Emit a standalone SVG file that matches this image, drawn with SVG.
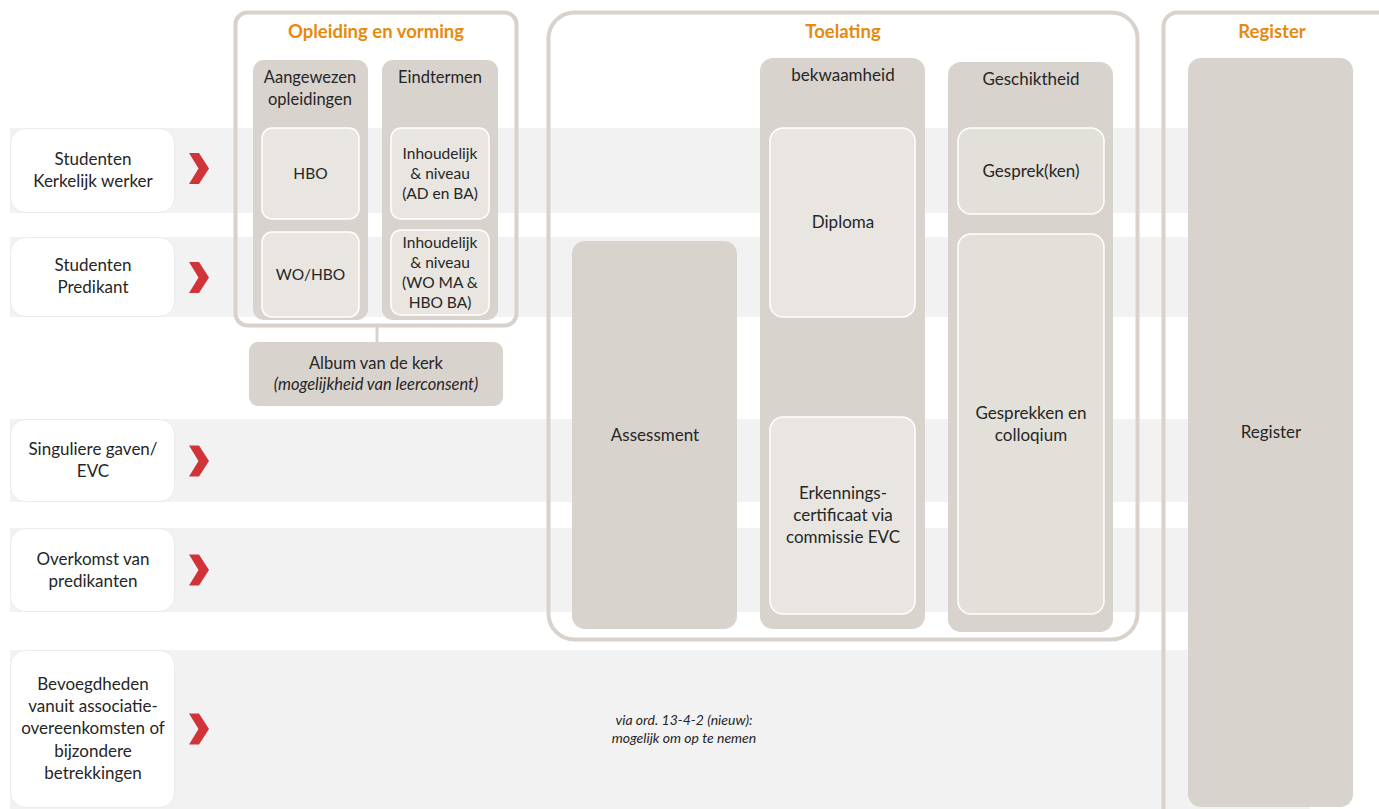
<svg xmlns="http://www.w3.org/2000/svg" width="1379" height="809" viewBox="0 0 1379 809">
<style>
.band{fill:#f2f2f2}
.lbl{fill:#ffffff;stroke:#ececec;stroke-width:1}
.frame{fill:none;stroke:#d9d2cc;stroke-width:4}
.col{fill:#d9d3ce}
.inner{fill:#e9e6e2;stroke:#ffffff;stroke-width:1.5}
.inner2{fill:#e3e0da;stroke:#ffffff;stroke-width:1.5}
.t{font-family:Lato,"Open Sans","Liberation Sans",sans-serif;font-size:17px;fill:#262626;text-anchor:middle}
.s{font-size:15.5px}
.m{font-size:16.5px}
.ti{font-style:italic}
.h{font-family:Lato,"Open Sans","Liberation Sans",sans-serif;font-size:18.5px;font-weight:bold;fill:#e8890c;text-anchor:middle}
.sm{font-family:Lato,"Open Sans","Liberation Sans",sans-serif;font-size:14px;font-style:italic;fill:#262626;text-anchor:middle}
.chev{fill:#d13438}
.conn{stroke:#d9d2cc;stroke-width:3;fill:none}
</style>
<defs>
<path id="chev" class="chev" d="M0,-15.5 L10,-15.5 L20,0 L10,15.5 L0,15.5 L9.5,0 Z"/>
</defs>
<rect width="1379" height="809" fill="#ffffff"/>
<g id="bands">
<rect class="band" x="10" y="128" width="1300" height="85"/>
<rect class="band" x="10" y="237" width="1300" height="80"/>
<rect class="band" x="10" y="419" width="1300" height="83"/>
<rect class="band" x="10" y="528" width="1300" height="84"/>
<rect class="band" x="10" y="650" width="1300" height="159"/>
</g>
<g id="row-kerkelijk">
<rect class="lbl" x="10.5" y="128.5" width="164" height="84" rx="15"/>
<text class="t" x="93" y="165">Studenten</text>
<text class="t" x="93" y="187">Kerkelijk werker</text>
<use href="#chev" x="189" y="168.5"/>
</g>
<g id="row-predikant">
<rect class="lbl" x="10.5" y="237.5" width="164" height="79" rx="15"/>
<text class="t" x="93" y="271">Studenten</text>
<text class="t" x="93" y="293">Predikant</text>
<use href="#chev" x="189" y="277.5"/>
</g>
<g id="row-singuliere">
<rect class="lbl" x="10.5" y="419.5" width="164" height="82" rx="15"/>
<text class="t" x="93" y="455">Singuliere gaven/</text>
<text class="t" x="93" y="477">EVC</text>
<use href="#chev" x="189" y="461"/>
</g>
<g id="row-overkomst">
<rect class="lbl" x="10.5" y="528.5" width="164" height="83" rx="15"/>
<text class="t" x="93" y="565">Overkomst van</text>
<text class="t" x="93" y="587">predikanten</text>
<use href="#chev" x="189" y="570"/>
</g>
<g id="row-bevoegdheden">
<rect class="lbl" x="10.5" y="650.5" width="164" height="157" rx="15"/>
<text class="t" x="93" y="690">Bevoegdheden</text>
<text class="t" x="93" y="712">vanuit associatie-</text>
<text class="t" x="93" y="734">overeenkomsten of</text>
<text class="t" x="93" y="757">bijzondere</text>
<text class="t" x="93" y="779">betrekkingen</text>
<use href="#chev" x="189" y="729"/>
</g>
<g id="connectors">
<line class="conn" x1="377" y1="326" x2="377" y2="343"/>
</g>
<g id="opleiding">
<rect class="frame" x="235.5" y="12.5" width="281" height="313" rx="12"/>
<text class="h" x="376" y="38">Opleiding en vorming</text>
</g>
<g id="aangewezen">
<rect class="col" x="253" y="60" width="115" height="260" rx="11"/>
<text class="t m" x="310" y="83">Aangewezen</text>
<text class="t m" x="310" y="105">opleidingen</text>
</g>
<g id="hbo">
<rect class="inner" x="262" y="128" width="97" height="91" rx="10"/>
<text class="t s" x="310.5" y="179">HBO</text>
</g>
<g id="wohbo">
<rect class="inner" x="262" y="232" width="97" height="85" rx="10"/>
<text class="t s" x="310.5" y="280">WO/HBO</text>
</g>
<g id="eindtermen">
<rect class="col" x="382" y="60" width="116" height="260" rx="11"/>
<text class="t m" x="440" y="83">Eindtermen</text>
</g>
<g id="inhoud1">
<rect class="inner" x="391" y="128" width="98" height="91" rx="10"/>
<text class="t s" x="440" y="159">Inhoudelijk</text>
<text class="t s" x="440" y="179">&amp; niveau</text>
<text class="t s" x="440" y="199">(AD en BA)</text>
</g>
<g id="inhoud2">
<rect class="inner" x="391" y="230" width="98" height="85" rx="10"/>
<text class="t s" x="440" y="248">Inhoudelijk</text>
<text class="t s" x="440" y="268">&amp; niveau</text>
<text class="t s" x="440" y="288">(WO MA &amp;</text>
<text class="t s" x="440" y="308">HBO BA)</text>
</g>
<g id="album">
<rect class="col" x="249" y="342" width="254" height="64" rx="9"/>
<text class="t m" x="376" y="369">Album van de kerk</text>
<text class="t m ti" x="376" y="390">(mogelijkheid van leerconsent)</text>
</g>
<g id="toelating">
<rect class="frame" x="548.5" y="12.5" width="589" height="627" rx="26"/>
<text class="h" x="843" y="38">Toelating</text>
</g>
<g id="assessment">
<rect class="col" x="572" y="241" width="165" height="388" rx="13"/>
<text class="t" x="655" y="441">Assessment</text>
</g>
<g id="bekwaamheid">
<rect class="col" x="760" y="58" width="165" height="571" rx="13"/>
<text class="t" x="843" y="81">bekwaamheid</text>
</g>
<g id="diploma">
<rect class="inner" x="770" y="128" width="145" height="189" rx="13"/>
<text class="t" x="843" y="228">Diploma</text>
</g>
<g id="erkenning">
<rect class="inner" x="770" y="417" width="145" height="197" rx="13"/>
<text class="t" x="843" y="499">Erkennings-</text>
<text class="t" x="843" y="521">certificaat via</text>
<text class="t" x="843" y="543">commissie EVC</text>
</g>
<g id="geschiktheid">
<rect class="col" x="948" y="62" width="165" height="570" rx="13"/>
<text class="t" x="1031" y="85">Geschiktheid</text>
</g>
<g id="gesprek">
<rect class="inner2" x="958" y="128" width="146" height="86" rx="13"/>
<text class="t" x="1031" y="177">Gesprek(ken)</text>
</g>
<g id="gesprekken">
<rect class="inner2" x="958" y="234" width="146" height="380" rx="13"/>
<text class="t" x="1031" y="419">Gesprekken en</text>
<text class="t" x="1031" y="441">colloqium</text>
</g>
<g id="register-frame">
<rect class="frame" x="1163.5" y="12.5" width="230" height="830" rx="14"/>
<text class="h" x="1272" y="38">Register</text>
</g>
<g id="register">
<rect class="col" x="1188" y="58" width="165" height="749" rx="13"/>
<text class="t" x="1271" y="438">Register</text>
</g>
<g id="note">
<text class="sm" x="684" y="725">via ord. 13-4-2 (nieuw):</text>
<text class="sm" x="684" y="743">mogelijk om op te nemen</text>
</g>
</svg>
